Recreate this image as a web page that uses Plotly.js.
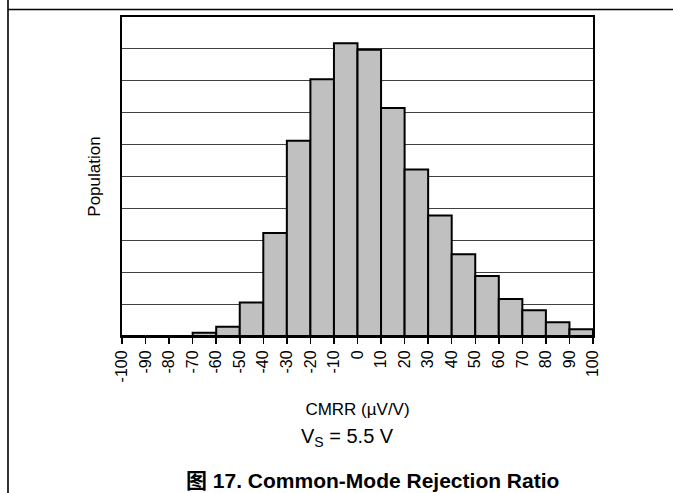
<!DOCTYPE html>
<html>
<head>
<meta charset="utf-8">
<script src="https://cdn.plot.ly/plotly-3.0.1.min.js"></script>
<style>
  html, body { margin: 0; padding: 0; background: #ffffff; }
  #chart { width: 673px; height: 493px; }
</style>
</head>
<body>
<div id="chart"></div>
<script>
// ---- data ----
var binLeft = [-100, -90, -80, -70, -60, -50, -40, -30, -20, -10, 0, 10, 20, 30, 40, 50, 60, 70, 80, 90];
var population = [0, 0, 0, 0.1, 0.29, 1.05, 3.23, 6.12, 8.05, 9.18, 8.97, 7.15, 5.22, 3.78, 2.56, 1.88, 1.16, 0.81, 0.43, 0.21];
var tickValues = [-100, -90, -80, -70, -60, -50, -40, -30, -20, -10, 0, 10, 20, 30, 40, 50, 60, 70, 80, 90, 100];
var tickLabels = ['-100', '-90', '-80', '-70', '-60', '-50', '-40', '-30', '-20', '-10', '0', '10', '20', '30', '40', '50', '60', '70', '80', '90', '100'];
var binWidth = 10;

var xTitle = 'CMRR (µV/V)';
var yTitle = 'Population';
var condition = 'V<sub>S</sub> = 5.5 V';
var figTitle = '<b>图 17. Common-Mode Rejection Ratio</b>';

// ---- layout geometry (pixels) ----
var W = 673, H = 493;
var M = { l: 122, r: 80, t: 17, b: 157 };
var PW = W - M.l - M.r, PH = H - M.t - M.b;
function px2x(px) { return (px - M.l) / PW; }
function py2y(py) { return (M.t + PH - py) / PH; }

var FONT = 'Liberation Sans, Arial, Helvetica, Noto Sans CJK SC, sans-serif';

var trace = {
  type: 'bar',
  x: binLeft,
  y: population,
  width: binWidth,
  offset: 0,
  marker: { color: '#c0c0c0', line: { color: '#000000', width: 2 } },
  hoverinfo: 'skip'
};

var layout = {
  width: W, height: H,
  margin: M,
  paper_bgcolor: '#ffffff',
  plot_bgcolor: '#ffffff',
  showlegend: false,
  bargap: 0,
  font: { family: FONT, color: '#000000' },
  xaxis: {
    range: [-100, 100],
    tickmode: 'array',
    tickvals: tickValues,
    ticktext: tickLabels,
    tickangle: -90,
    ticks: 'outside',
    ticklen: 6,
    tickwidth: 1.5,
    tickcolor: '#000000',
    tickfont: { family: FONT, size: 16, color: '#000000' },
    showgrid: false,
    zeroline: false,
    showline: true,
    linecolor: '#000000',
    linewidth: 2,
    mirror: true,
    title: { text: xTitle, font: { family: FONT, size: 17, color: '#000000' }, standoff: 22 }
  },
  yaxis: {
    range: [0, 10],
    dtick: 1,
    showticklabels: false,
    ticks: '',
    showgrid: true,
    gridcolor: '#404040',
    gridwidth: 1,
    zeroline: false,
    showline: true,
    linecolor: '#000000',
    linewidth: 2,
    mirror: true,
    title: { text: yTitle, font: { family: FONT, size: 17, color: '#000000' }, standoff: 15 }
  },
  annotations: [
    { text: condition, xref: 'paper', yref: 'paper', x: px2x(347), y: py2y(437),
      xanchor: 'center', yanchor: 'middle', showarrow: false,
      font: { family: FONT, size: 20, color: '#000000' } },
    { text: figTitle, xref: 'paper', yref: 'paper', x: px2x(372.5), y: py2y(480),
      xanchor: 'center', yanchor: 'middle', showarrow: false,
      font: { family: FONT, size: 21, color: '#000000' } }
  ],
  shapes: [
    { type: 'line', xref: 'paper', yref: 'paper', x0: px2x(8), x1: px2x(8), y0: py2y(0), y1: py2y(H),
      line: { color: '#000000', width: 1.6 } },
    { type: 'line', xref: 'paper', yref: 'paper', x0: px2x(8), x1: px2x(W), y0: py2y(9.5), y1: py2y(9.5),
      line: { color: '#000000', width: 1.6 } }
  ]
};

Plotly.newPlot('chart', [trace], layout, { displayModeBar: false, staticPlot: true });
</script>
</body>
</html>
